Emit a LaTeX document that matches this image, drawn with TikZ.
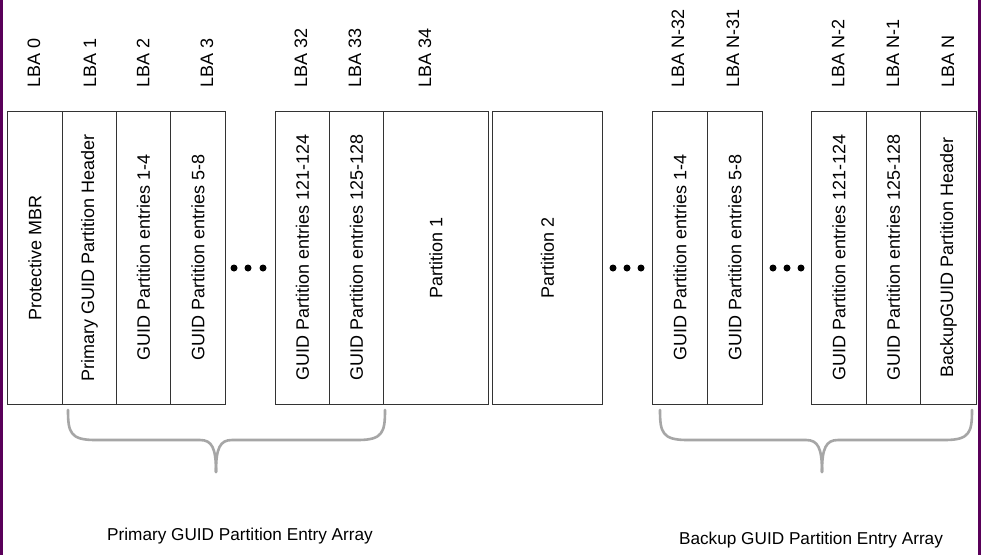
\documentclass[tikz,border=0pt]{standalone}
\usepackage{fontspec}
\setmainfont{Liberation Sans}
\begin{document}
\begin{tikzpicture}[x=1pt,y=-1pt,
  cell/.style={draw=black!80,line width=0.8pt,minimum height=293pt,anchor=north west,inner sep=0pt},
  vt/.style={rotate=90,font=\fontsize{18}{19}\selectfont},
  lba/.style={rotate=90,anchor=west,inner sep=0pt,font=\fontsize{18}{19}\selectfont},
  dot/.style={circle,fill=black,inner sep=0pt,minimum size=7pt},
  brace/.style={draw=black!35,line width=2.6pt,line cap=round},
  captxt/.style={font=\fontsize{17.2}{18}\selectfont}]
\useasboundingbox (0,0) rectangle (982,555);
\fill[white] (0,0) rectangle (982,555);
\draw[violet!70!black,line width=2.5pt] (1.5,0) -- (1.5,555);
\draw[violet!70!black,line width=2.5pt] (979.5,0) -- (979.5,555);
\foreach \n/\a/\b/\t in {c0/7/62/Protective MBR, c1/62/116/Primary GUID Partition Header, c2/116/170/GUID Partition entries 1-4, c3/170/225/GUID Partition entries 5-8, c32/275/329/GUID Partition entries 121-124, c33/329/383/GUID Partition entries 125-128, c34/383/488/Partition 1, p2/492/602/Partition 2, b1/652/707/GUID Partition entries 1-4, b2/707/762/GUID Partition entries 5-8, b3/811/866/GUID Partition entries 121-124, b4/866/920/GUID Partition entries 125-128, b5/920/976/BackupGUID Partition Header}
{
  \pgfmathsetmacro\w{\b-\a}
  \node[cell,minimum width=\w pt] (\n) at (\a,111) {};
  \node[vt] (\n t) at (\n.center) {\t};
}
\foreach \n/\x/\t in {l0/34/LBA 0, l1/90/LBA 1, l2/143/LBA 2, l3/207/LBA 3, l32/301/LBA 32, l33/355/LBA 33, l34/425/LBA 34, ln32/678/LBA N-32, ln31/733/LBA N-31, ln2/838/LBA N-2, ln1/893/LBA N-1, ln/948/LBA N}
  \node[lba] (\n) at (\x,88) {\t};
\foreach \n/\x in {d1/234, d2/248, d3/263, e1/613, e2/627, e3/641, f1/773, f2/787, f3/801}
  \node[dot] (\n) at (\x,268) {};
\draw[brace] (68,410) .. controls (68,432) and (70,440) .. (95,440) -- (200,440) .. controls (212,440) and (216,448) .. (216,472);
\draw[brace] (385,410) .. controls (385,432) and (383,440) .. (358,440) -- (232,440) .. controls (220,440) and (216,448) .. (216,472);
\draw[brace] (660,410) .. controls (660,432) and (662,440) .. (687,440) -- (806,440) .. controls (818,440) and (822,448) .. (822,472);
\draw[brace] (972,410) .. controls (972,432) and (970,440) .. (945,440) -- (838,440) .. controls (826,440) and (822,448) .. (822,472);
\node[captxt] (pa) at (240,536) {Primary GUID Partition Entry Array};
\node[captxt] (ba) at (811,540) {Backup GUID Partition Entry Array};
\end{tikzpicture}
\end{document}
